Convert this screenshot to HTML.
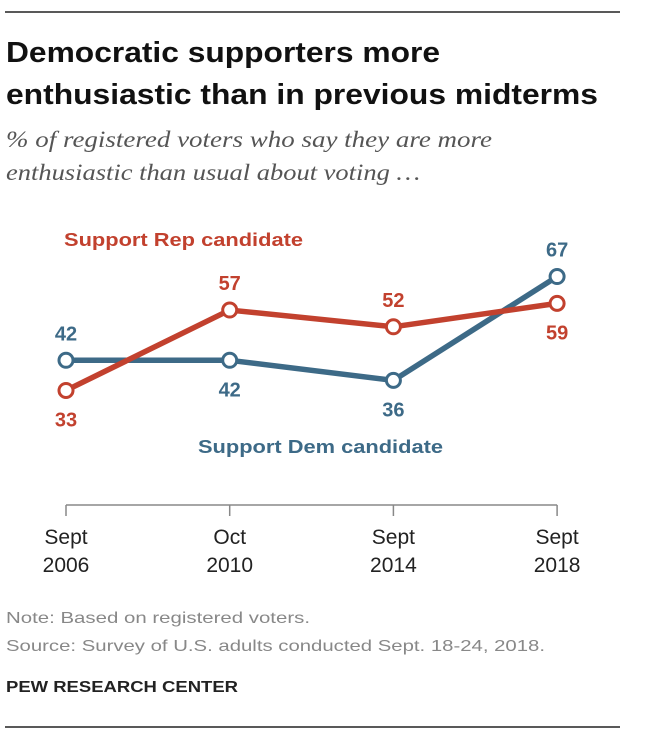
<!DOCTYPE html>
<html><head><meta charset="utf-8"><style>
body{margin:0;background:#fff;width:646px;height:744px;overflow:hidden;font-family:"Liberation Sans",sans-serif}
svg{position:absolute;left:0;top:0}
</style></head><body>
<svg width="646" height="744">
<line x1="5" y1="12" x2="620" y2="12" stroke="#222" stroke-width="1.5"/>
<text x="6" y="62" font-size="29" font-weight="bold" fill="#111" textLength="434" lengthAdjust="spacingAndGlyphs">Democratic supporters more</text>
<text x="6" y="104" font-size="29" font-weight="bold" fill="#111" textLength="592" lengthAdjust="spacingAndGlyphs">enthusiastic than in previous midterms</text>
<text x="6" y="147" font-size="23" font-style="italic" fill="#555" font-family="Liberation Serif,serif" textLength="486" lengthAdjust="spacingAndGlyphs">% of registered voters who say they are more</text>
<text x="6" y="180" font-size="23" font-style="italic" fill="#555" font-family="Liberation Serif,serif" textLength="414" lengthAdjust="spacingAndGlyphs">enthusiastic than usual about voting …</text>
<g id="plot"></g>
<text x="6" y="623" font-size="16" fill="#888" textLength="304" lengthAdjust="spacingAndGlyphs">Note: Based on registered voters.</text>
<text x="6" y="651" font-size="16" fill="#888" textLength="539" lengthAdjust="spacingAndGlyphs">Source: Survey of U.S. adults conducted Sept. 18-24, 2018.</text>
<text x="6" y="692" font-size="16" font-weight="bold" fill="#222" textLength="232" lengthAdjust="spacingAndGlyphs">PEW RESEARCH CENTER</text>
<line x1="5" y1="727" x2="620" y2="727" stroke="#222" stroke-width="1.5"/>
</svg>
<script>
const categoriesTop=["Sept","Oct","Sept","Sept"];
const categoriesBottom=["2006","2010","2014","2018"];
const demValues=[42,42,36,67];
const repValues=[33,57,52,59];
const NS="http://www.w3.org/2000/svg";
const g=document.getElementById('plot');
const x=i=>66+i*163.7;
const y=v=>501-v*3.35;
const DEM="#3d6a87",REP="#c2412e";
function mk(t,a,p){const e=document.createElementNS(NS,t);for(const k in a)e.setAttribute(k,a[k]);(p||g).appendChild(e);return e;}
const ax=mk('line',{x1:x(0),y1:505,x2:x(3),y2:505,stroke:'#888','stroke-width':1.5});


categoriesTop.forEach((c,i)=>{
 const t=mk('line',{x1:x(i),y1:505,x2:x(i),y2:516,stroke:'#888','stroke-width':1.5});
 
 
 const l1=mk('text',{x:x(i),y:544,'text-anchor':'middle','font-size':21,fill:'#222'});l1.textContent=c;
 
 
 const l2=mk('text',{x:x(i),y:572,'text-anchor':'middle','font-size':21,fill:'#222'});l2.textContent=categoriesBottom[i];
 
 
});
function series(vals,col,name,above){
 const p=mk('polyline',{points:vals.map((v,i)=>x(i)+','+y(v)).join(' '),fill:'none',stroke:col,'stroke-width':5.5,'stroke-linejoin':'round'});
 
 
 vals.forEach((v,i)=>{
  const c=mk('circle',{cx:x(i),cy:y(v),r:7,fill:'#fff',stroke:col,'stroke-width':3});
  
  
  const up=above[i];
  const t=mk('text',{x:x(i),y:up?y(v)-20:y(v)+36,'text-anchor':'middle','font-size':20,'font-weight':'bold',fill:col});
  t.textContent=v;
  
  
 });
}
series(demValues,DEM,'dem',[true,false,false,true]);
series(repValues,REP,'rep',[false,true,true,false]);
const lr=mk('text',{x:64,y:246,'font-size':18,'font-weight':'bold',fill:REP,textLength:239,lengthAdjust:'spacingAndGlyphs'});lr.textContent="Support Rep candidate";


const ld=mk('text',{x:198,y:453,'font-size':18,'font-weight':'bold',fill:DEM,textLength:245,lengthAdjust:'spacingAndGlyphs'});ld.textContent="Support Dem candidate";


</script>
</body></html>
